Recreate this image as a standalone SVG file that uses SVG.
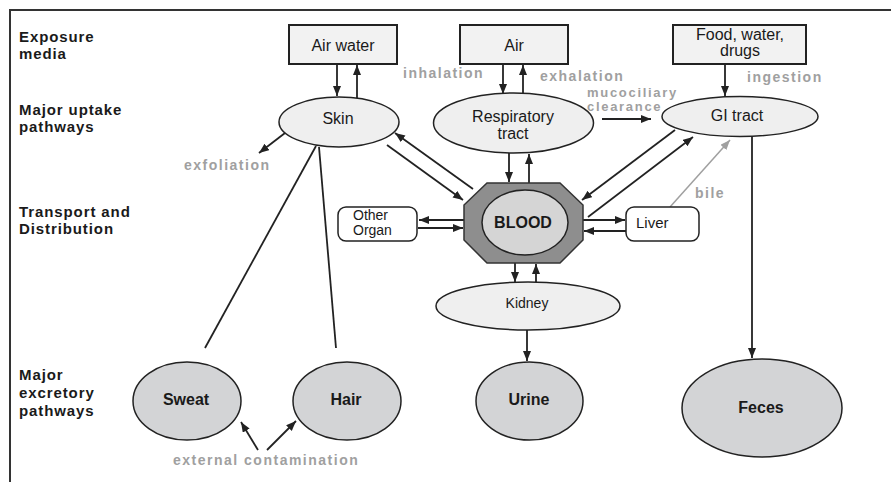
<svg xmlns="http://www.w3.org/2000/svg" width="891" height="482" viewBox="0 0 891 482">
<style>
text{font-family:"Liberation Sans",Arial,sans-serif;fill:#1a1a1a}
.lab{font-size:15px;font-weight:bold;letter-spacing:0.9px}
.gr{font-size:14px;font-weight:bold;letter-spacing:1.5px;fill:#a0a0a0}
.gs{font-size:13px;font-weight:bold;letter-spacing:1.7px;fill:#a0a0a0}
.bx{font-size:16px;text-anchor:middle}
.sm{font-size:14px}
.bd{font-size:16px;font-weight:bold;text-anchor:middle}
.box{fill:#f2f2f2;stroke:#222;stroke-width:2}
.rbox{fill:#fff;stroke:#222;stroke-width:1.5}
.up{fill:#efefef;stroke:#222;stroke-width:1.5}
.ex{fill:#d3d4d6;stroke:#222;stroke-width:1.5}
.c{stroke:#222;stroke-width:1.8;fill:none}
.a{marker-end:url(#ah)}
.g{stroke:#a0a0a0;stroke-width:1.5;fill:none;marker-end:url(#ag)}
</style>
<defs>
<marker id="ah" markerUnits="userSpaceOnUse" markerWidth="11" markerHeight="9" refX="10" refY="4" orient="auto"><path d="M0,0 L10,4 L0,8 z" fill="#222"/></marker>
<marker id="ag" markerUnits="userSpaceOnUse" markerWidth="11" markerHeight="9" refX="10" refY="4" orient="auto"><path d="M0,0 L10,4 L0,8 z" fill="#a0a0a0"/></marker>
</defs>
<rect width="891" height="482" fill="#fff"/>
<path d="M10,482 V10 H891" fill="none" stroke="#333" stroke-width="2"/>
<g id="labels">
<text class="lab" x="19" y="42">Exposure</text>
<text class="lab" x="19" y="59">media</text>
<text class="lab" x="19" y="115">Major uptake</text>
<text class="lab" x="19" y="132">pathways</text>
<text class="lab" x="19" y="217">Transport and</text>
<text class="lab" x="19" y="234">Distribution</text>
<text class="lab" x="19" y="380">Major</text>
<text class="lab" x="19" y="398">excretory</text>
<text class="lab" x="19" y="416">pathways</text>
<text class="gr" x="403" y="78">inhalation</text>
<text class="gr" x="540" y="81">exhalation</text>
<text class="gr" x="747" y="82">ingestion</text>
<text class="gs" x="587" y="97">mucociliary</text>
<text class="gs" x="587" y="111">clearance</text>
<text class="gr" x="184" y="170">exfoliation</text>
<text class="gr" x="695" y="198">bile</text>
<text class="gr" x="173" y="465">external contamination</text>
</g>
<g id="connectors">
<line class="c a" x1="337" y1="64" x2="337" y2="96"/>
<line class="c a" x1="357" y1="98" x2="357" y2="65"/>
<line class="c a" x1="503" y1="64" x2="503" y2="94"/>
<line class="c a" x1="523" y1="94" x2="523" y2="65"/>
<line class="c a" x1="725" y1="64" x2="725" y2="96"/>
<line class="c a" x1="602" y1="119" x2="651" y2="119"/>
<line class="c a" x1="285" y1="133" x2="259" y2="153"/>
<line class="c a" x1="473" y1="189" x2="395" y2="133"/>
<line class="c a" x1="387" y1="145" x2="463" y2="200"/>
<line class="c a" x1="509" y1="153" x2="509" y2="182"/>
<line class="c a" x1="529" y1="183" x2="529" y2="154"/>
<line class="c a" x1="675" y1="130" x2="582" y2="200"/>
<line class="c a" x1="588" y1="217" x2="693" y2="137"/>
<line class="g" x1="670" y1="207" x2="730" y2="140"/>
<line class="c a" x1="464" y1="220" x2="419" y2="220"/>
<line class="c a" x1="418" y1="228" x2="463" y2="228"/>
<line class="c a" x1="583" y1="220" x2="625" y2="220"/>
<line class="c a" x1="626" y1="231" x2="584" y2="231"/>
<line class="c a" x1="515" y1="263" x2="515" y2="282"/>
<line class="c a" x1="536" y1="282" x2="536" y2="264"/>
<line class="c a" x1="527" y1="330" x2="527" y2="361"/>
<line class="c a" x1="752" y1="136" x2="752" y2="358"/>
<line class="c" x1="316" y1="146" x2="205" y2="348"/>
<line class="c" x1="319" y1="147" x2="336" y2="348"/>
<line class="c a" x1="258" y1="450" x2="241" y2="422"/>
<line class="c a" x1="267" y1="450" x2="296" y2="421"/>
</g>
<g id="airwater"><rect class="box" x="289" y="25" width="108" height="39"/><text class="bx" x="343" y="51">Air water</text></g>
<g id="air"><rect class="box" x="460" y="25" width="108" height="39"/><text class="bx" x="514" y="51">Air</text></g>
<g id="food"><rect class="box" x="673" y="25" width="133" height="39"/><text class="bx" x="740" y="40">Food, water,</text><text class="bx" x="740" y="56">drugs</text></g>
<g id="skin"><ellipse class="up" cx="339" cy="122" rx="60" ry="25"/><text class="bx" x="338" y="124">Skin</text></g>
<g id="resp"><ellipse class="up" cx="513.5" cy="123" rx="80" ry="30"/><text class="bx" x="513" y="122">Respiratory</text><text class="bx" x="513" y="139">tract</text></g>
<g id="gi"><ellipse class="up" cx="740" cy="116.5" rx="78" ry="20"/><text class="bx" x="737" y="121">GI tract</text></g>
<g id="blood"><polygon points="487,183 560,183 583,205 583,240 560,263 487,263 464,240 464,205" fill="#8e8e8e" stroke="#333" stroke-width="1.5"/><ellipse cx="525" cy="222.5" rx="43" ry="32.5" fill="#d5d5d5" stroke="#222" stroke-width="1.5"/><text class="bd" x="523" y="228">BLOOD</text></g>
<g id="other"><rect class="rbox" x="338" y="207" width="79" height="34" rx="8"/><text class="sm" x="353" y="220">Other</text><text class="sm" x="353" y="235">Organ</text></g>
<g id="liver"><rect class="rbox" x="626" y="207" width="73" height="34" rx="8"/><text class="sm" x="636" y="228" style="font-size:15px">Liver</text></g>
<g id="kidney"><ellipse class="up" cx="528" cy="306" rx="92" ry="24"/><text x="527" y="308" style="font-size:14px;text-anchor:middle">Kidney</text></g>
<g id="sweat"><ellipse class="ex" cx="187" cy="401" rx="54" ry="39"/><text class="bd" x="186" y="405">Sweat</text></g>
<g id="hair"><ellipse class="ex" cx="347" cy="401" rx="54" ry="39"/><text class="bd" x="346" y="405">Hair</text></g>
<g id="urine"><ellipse class="ex" cx="529.5" cy="401" rx="53.5" ry="39"/><text class="bd" x="529" y="405">Urine</text></g>
<g id="feces"><ellipse class="ex" cx="762" cy="408" rx="80" ry="49"/><text class="bd" x="761" y="413">Feces</text></g>
</svg>
